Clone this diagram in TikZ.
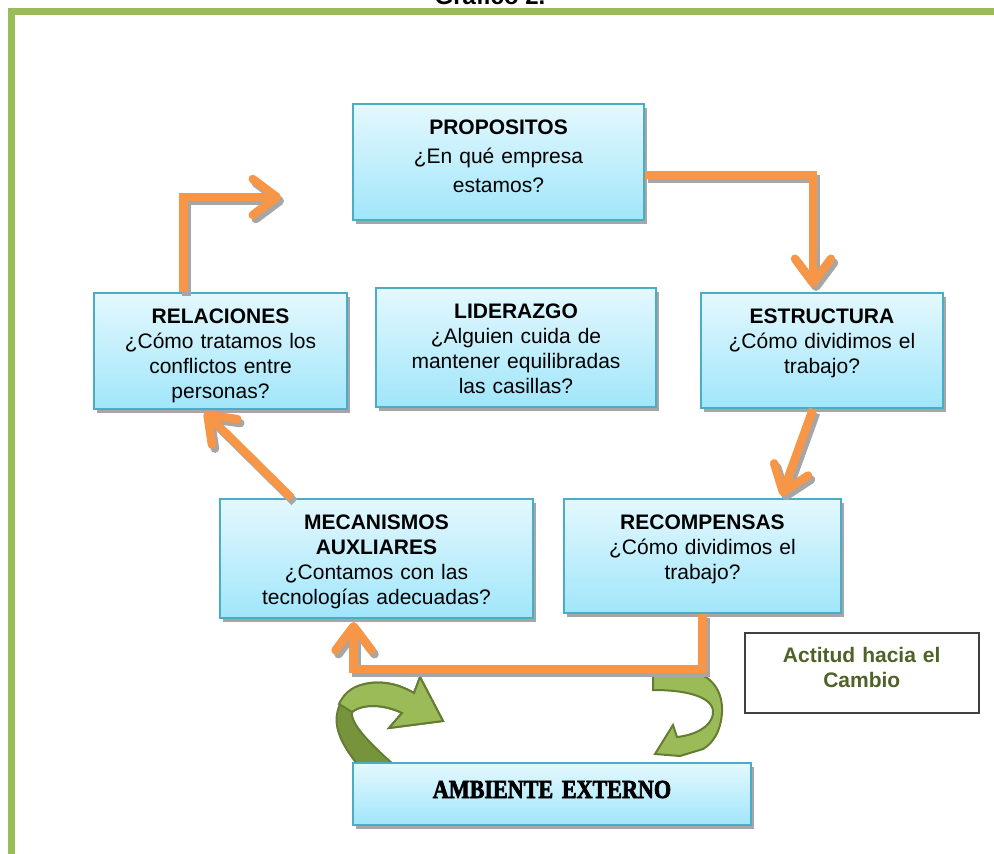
\documentclass[tikz,border=0pt]{standalone}
\usepackage{fontspec}
\setmainfont{Liberation Sans}
\newfontfamily\ambfont[FakeStretch=0.85,FakeBold=2.5]{Liberation Serif}
\usetikzlibrary{arrows.meta,shadows}
\definecolor{cajaborde}{RGB}{75,172,198}
\definecolor{cajaclara}{RGB}{228,248,254}
\definecolor{cajaoscura}{RGB}{160,230,250}
\definecolor{flechanaranja}{RGB}{247,150,70}
\definecolor{flechasombra}{RGB}{166,166,166}
\definecolor{marcoverde}{RGB}{155,187,89}
\definecolor{verdeoscuro}{RGB}{119,147,60}
\definecolor{verdeborde}{RGB}{100,125,50}
\definecolor{textoverde}{RGB}{79,98,40}
\tikzset{
  caja/.style={draw=cajaborde, line width=2pt, top color=cajaclara, bottom color=cajaoscura,
    drop shadow={shadow xshift=3pt, shadow yshift=-4pt, fill=flechasombra, opacity=1},
    inner sep=0pt, align=center, text height=30pt, font=\fontsize{21}{25}\selectfont},
  flecha/.style={draw=flechanaranja, line width=8.5pt,
    -{Straight Barb[length=24pt,width=36pt,round]}},
  sombra/.style={flecha, draw=flechasombra, transform canvas={xshift=3pt,yshift=-4pt}}
}

\begin{document}
\begin{tikzpicture}[x=1pt,y=-1pt]
  \useasboundingbox (0,0) rectangle (994,854);
  % marco
  \draw[marcoverde, line width=7pt] (11.5,854) -- (11.5,11) -- (994,11);
  \node[font=\bfseries\fontsize{24}{28}\selectfont, anchor=base] (titulo) at (490,4) {Gráfico 2.};

  % flechas verdes
  \filldraw[fill=verdeoscuro, draw=verdeborde, line width=2pt] (358,765) .. controls (346,750) and (334,732) .. (337,714)
    .. controls (340,698) and (350,686) .. (370,683) .. controls (388,681) and (402,686) .. (414,693)
    -- (420,677) -- (443,721) -- (389,728) -- (402,713)
    .. controls (388,706) and (365,702) .. (352,712) .. controls (350,725) and (375,748) .. (394,765) -- cycle;
  \filldraw[fill=marcoverde, draw=verdeborde, line width=2pt] (339,704) .. controls (345,691) and (355,685) .. (370,683)
    .. controls (388,681) and (402,686) .. (414,693) -- (420,677) -- (443,721) -- (389,728) -- (402,713)
    .. controls (388,706) and (365,702) .. (352,712) -- cycle;
  \filldraw[fill=marcoverde, draw=verdeborde, line width=2pt] (653,672) -- (690,672) .. controls (712,674) and (723,692) .. (722,712)
    .. controls (721,732) and (712,744) .. (703,749) -- (680,756) -- (655,754) -- (673,725) -- (677,737)
    .. controls (695,735) and (711,727) .. (713,714) .. controls (715,700) and (695,690) .. (653,690) -- cycle;

  % cajas
  \node[caja, text width=291pt, text depth=86pt, anchor=north west, font=\fontsize{21}{29}\selectfont] (prop) at (352,103)
    {\textbf{PROPOSITOS}\\¿En qué empresa\\estamos?};
  \node[caja, text width=280pt, text depth=89pt, anchor=north west] (lid) at (375,287)
    {\textbf{LIDERAZGO}\\¿Alguien cuida de\\mantener equilibradas\\las casillas?};
  \node[caja, text width=253pt, text depth=86pt, anchor=north west] (rel) at (93,292)
    {\textbf{RELACIONES}\\¿Cómo tratamos los\\conflictos entre\\personas?};
  \node[caja, text width=242pt, text depth=85pt, anchor=north west] (estr) at (700,292)
    {\textbf{ESTRUCTURA}\\¿Cómo dividimos el\\trabajo?};
  \node[caja, text width=313pt, text depth=89pt, anchor=north west] (mec) at (219,498)
    {\textbf{MECANISMOS}\\\textbf{AUXLIARES}\\¿Contamos con las\\tecnologías adecuadas?};
  \node[caja, text width=277pt, text depth=84pt, anchor=north west] (recom) at (563,498)
    {\textbf{RECOMPENSAS}\\¿Cómo dividimos el\\trabajo?};
  \node[caja, text width=398pt, text height=35pt, text depth=27pt, anchor=north west,
    drop shadow={shadow xshift=3pt, shadow yshift=-4pt, fill=flechasombra, opacity=.6},
    font=\ambfont\bfseries\fontsize{26}{30}\selectfont] (amb) at (352,762) {AMBIENTE EXTERNO};
  \node[draw=black!75, line width=1.5pt, fill=white, inner sep=0pt, align=center, text width=234pt,
    text height=30pt, text depth=50pt, anchor=north west, text=textoverde,
    font=\bfseries\fontsize{21}{25}\selectfont] (act) at (744,632) {Actitud hacia el\\Cambio};

  % flechas naranjas, primero la sombra
  \coordinate (haciaprop) at (281,197);
  \foreach \capa in {sombra,flecha} {
    \draw[\capa] ([yshift=-13pt]prop.east) -| ([xshift=-9pt,yshift=5pt]estr.north);
    \draw[\capa] ([xshift=-9pt]estr.south) -- ([xshift=79pt,yshift=2pt]recom.north);
    \draw[\capa] (recom.south) -- ++(0,55) -| ([xshift=-23pt,yshift=-3pt]mec.south);
    \draw[\capa] ([xshift=-85pt]mec.north) -- ([xshift=-16pt,yshift=-2pt]rel.south);
    \draw[\capa] ([xshift=-37pt]rel.north) |- (haciaprop);
  }
\end{tikzpicture}
\end{document}
